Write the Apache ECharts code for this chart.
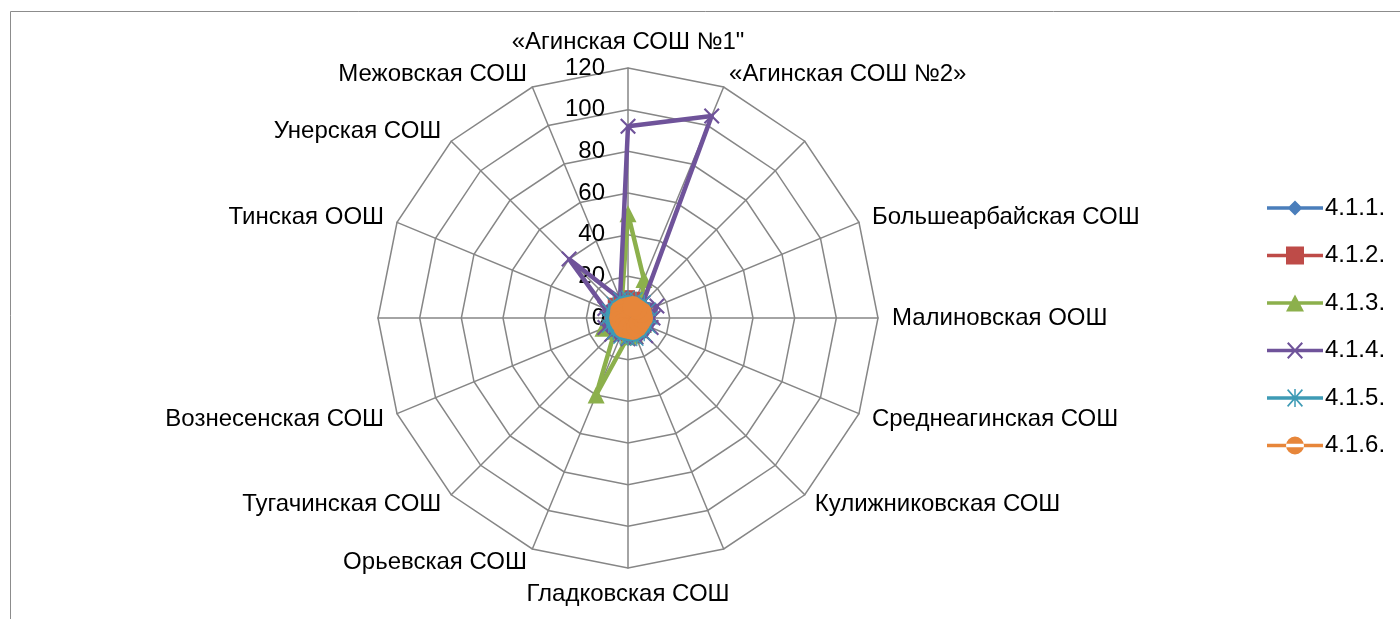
<!DOCTYPE html>
<html>
<head>
<meta charset="utf-8">
<script src="https://cdn.jsdelivr.net/npm/echarts@6/dist/echarts.min.js"></script>
<style>html,body{margin:0;padding:0;background:#fff;}#c{width:1400px;height:619px;}</style>
</head>
<body>
<div id="c"></div>
<script>
// Categories listed clockwise starting from the top spoke
const categories = ['«Агинская СОШ №1"', '«Агинская СОШ №2»', '', 'Большеарбайская СОШ', 'Малиновская ООШ',
  'Среднеагинская СОШ', 'Кулижниковская СОШ', '', 'Гладковская СОШ', 'Орьевская СОШ', 'Тугачинская СОШ',
  'Вознесенская СОШ', '', 'Тинская ООШ', 'Унерская СОШ', 'Межовская СОШ'];
const seriesNames = ['4.1.1.', '4.1.2.', '4.1.3.', '4.1.4.', '4.1.5.', '4.1.6.'];
const s411 = [7, 7, 6, 7, 7, 7, 7, 6, 7, 7, 7, 7, 6, 7, 7, 7];
const s412 = [10, 10, 8, 9, 8, 8, 8, 8, 8, 8, 8, 8, 8, 8, 9, 9];
const s413 = [50, 20, 9, 8, 8, 8, 8, 9, 9, 40, 9, 13, 8, 8, 8, 8];
const s414 = [92, 105, 10, 15, 12, 12, 12, 10, 10, 9, 11, 12, 10, 12, 40, 10];
const s415 = [10, 10, 11, 11, 11, 11, 11, 11, 10, 10, 10, 10, 10, 10, 10, 10];
const s416 = [5, 6, 6, 7, 7, 6, 6, 6, 5, 5, 4, 4, 4, 4, 5, 5];
const axisTicks = [0, 20, 40, 60, 80, 100, 120];

const allSeries = [s411, s412, s413, s414, s415, s416];
const colors = ['#4a7ebb', '#be4b48', '#8cb04c', '#6f539a', '#3e9bb5', '#e7863a'];
const FONT = 'Liberation Sans';

// ECharts radar runs counter-clockwise; reorder so the picture reads clockwise
const order = [0].concat(categories.map((_, i) => i).slice(1).reverse());
const reorder = arr => order.map(i => arr[i]);

const LINE = 'M0,7.25H56V10.75H0Z ';
const chartSymbols = [
  'diamond', 'rect', 'triangle',
  'path://M0,1.5L1.5,0L8,6.5L14.5,0L16,1.5L9.5,8L16,14.5L14.5,16L8,9.5L1.5,16L0,14.5L6.5,8Z',
  'path://M7.25,0H8.75V16H7.25Z M0,1L1,0L16,15L15,16Z M15,0L16,1L1,16L0,15Z',
  'circle'
];
const symbolSizes = [14, 14, 17, 16, 14, 21];
const legendIcons = [
  'path://' + LINE + 'M28,1.5L35.5,9L28,16.5L20.5,9Z',
  'path://' + LINE + 'M19,0H37V18H19Z',
  'path://' + LINE + 'M28,0.5L37,17.5H19Z',
  'path://' + LINE + 'M20,2L21.5,0.5L28,7.5L34.5,0.5L36,2L29.5,9L36,16L34.5,17.5L28,10.5L21.5,17.5L20,16L26.5,9Z',
  'path://' + LINE + 'M27.25,0H28.75V18H27.25Z M20,1.2L21.2,0L36,16.8L34.8,18Z M34.8,0L36,1.2L21.2,18L20,16.8Z',
  'path://' + LINE + 'M19,9A9,9,0,1,0,37,9A9,9,0,1,0,19,9Z'
];

const chart = echarts.init(document.getElementById('c'), null, {renderer: 'canvas'});
chart.setOption({
  animation: false,
  backgroundColor: '#fff',
  color: colors,
  graphic: [{
    type: 'rect', shape: {x: 10.5, y: 11.5, width: 1500, height: 800},
    style: {fill: 'none', stroke: '#8c8c8c', lineWidth: 1}, silent: true, z: -10
  }],
  legend: {
    orient: 'vertical', left: 1262, top: 191,
    itemWidth: 56, itemHeight: 18, itemGap: 23.5,
    textStyle: {fontFamily: FONT, fontSize: 24, color: '#000', lineHeight: 24, padding: [0, 0, 0, -3]},
    data: seriesNames.map((n, i) => ({name: n, icon: legendIcons[i]}))
  },
  radar: {
    center: [628, 318], radius: 250, startAngle: 90,
    splitNumber: axisTicks.length - 1, shape: 'polygon',
    indicator: reorder(categories).map(n => ({name: n, min: axisTicks[0], max: axisTicks[axisTicks.length - 1]})),
    axisNameGap: 14,
    axisName: {color: '#000', fontFamily: FONT, fontSize: 24},
    splitLine: {lineStyle: {color: '#868686', width: 1.5}},
    splitArea: {show: false},
    axisLine: {lineStyle: {color: '#868686', width: 1.5}},
    axisTick: {show: false},
    axisLabel: {show: false}
  },
  polar: {center: [628, 318], radius: 250},
  angleAxis: {type: 'value', startAngle: 90, min: 0, max: 360,
    axisLine: {show: false}, axisTick: {show: false}, axisLabel: {show: false}, splitLine: {show: false}},
  radiusAxis: {type: 'value', min: axisTicks[0], max: axisTicks[axisTicks.length - 1], interval: axisTicks[1] - axisTicks[0],
    axisLine: {show: false}, axisTick: {show: false}, splitLine: {show: false},
    axisLabel: {fontFamily: FONT, fontSize: 24, color: '#000', margin: 23}},
  series: allSeries.map((vals, i) => ({
    type: 'radar', name: seriesNames[i], z: 2 + i,
    symbol: chartSymbols[i], symbolSize: symbolSizes[i],
    lineStyle: {width: 4.5, color: colors[i]},
    itemStyle: {color: colors[i]},
    data: [{name: seriesNames[i], value: reorder(vals)}]
  }))
});
</script>
</body>
</html>
